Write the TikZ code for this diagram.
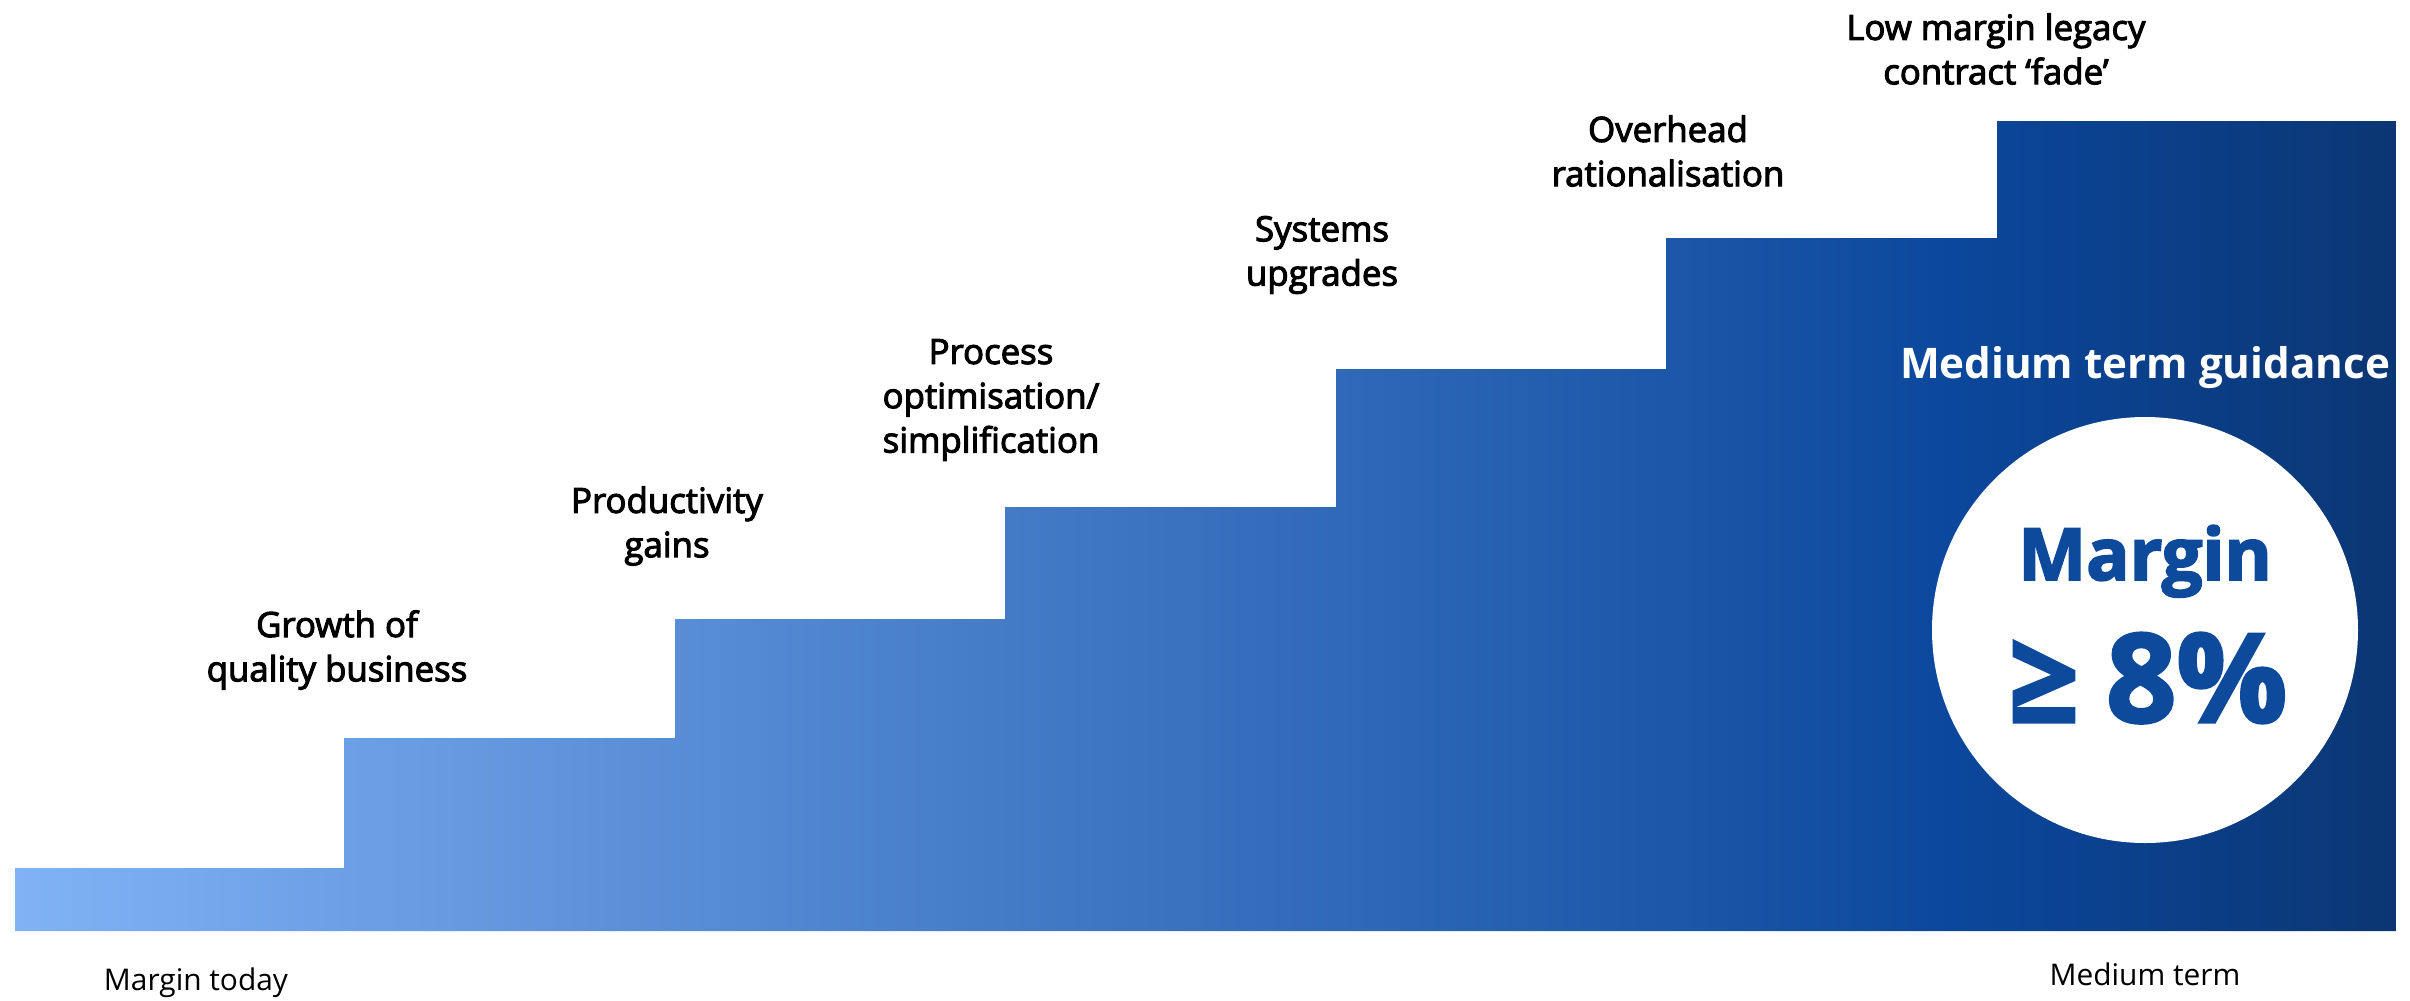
\documentclass[tikz,border=0pt]{standalone}
\usepackage{fontspec}
\setmainfont{Open Sans}
\IfFontExistsTF{Open Sans SemiBold}
  {\newfontfamily\labelfont{Open Sans SemiBold}}
  {\newfontfamily\labelfont{Open Sans}[FakeBold=3]}
\newfontfamily\headfont{Open Sans}[BoldFeatures={FakeBold=2.6}]

\definecolor{stairlight}{RGB}{128,178,245}
\definecolor{stairmid}{RGB}{11,71,156}
\definecolor{stairdark}{RGB}{11,54,115}
\definecolor{marginblue}{RGB}{14,74,156}

% the path's bounding box spans 25bp..75bp of the shading
\pgfdeclarehorizontalshading{stairshade}{100bp}{%
  color(0bp)=(stairlight); color(25bp)=(stairlight);
  color(65.7bp)=(stairmid);
  color(75bp)=(stairdark); color(100bp)=(stairdark)}

\tikzset{
  steplabel/.style={font=\labelfont\fontsize{9.9}{12.6}\selectfont,
    text=black, align=center, inner sep=0pt},
  axislabel/.style={font=\fontsize{8.5}{10}\selectfont, text=black, inner sep=0pt},
  guidetext/.style={font=\bfseries\fontsize{12}{14}\selectfont, text=white, inner sep=0pt},
  bigtext/.style={font=\headfont\bfseries, text=marginblue, inner sep=0pt},
}

\begin{document}
\begin{tikzpicture}[x=0.1mm, y=-0.1mm]
  \useasboundingbox (0,0) rectangle (2410,1000);

  % staircase
  \shade[shading=stairshade]
    (15,931) -- (15,868) -- (344,868) -- (344,738) -- (675,738) -- (675,619)
    -- (1005,619) -- (1005,507) -- (1336,507) -- (1336,369) -- (1666,369)
    -- (1666,238) -- (1997,238) -- (1997,121) -- (2396,121) -- (2396,931) -- cycle;

  % step captions
  \node[steplabel] (s1) at (337,650) {Growth of\\quality business};
  \node[steplabel] (s2) at (667,526) {Productivity\\gains};
  \node[steplabel] (s3) at (991,400) {Process\\optimisation/\\simplification};
  \node[steplabel] (s4) at (1322,255) {Systems\\upgrades};
  \node[steplabel] (s5) at (1668,151) {Overhead\\rationalisation};
  \node[steplabel] (s6) at (1996,49) {Low margin legacy\\contract ‘fade’};

  % guidance panel
  \node[guidetext, anchor=base] (guide) at (2145,378) {Medium term guidance};
  \node[circle, fill=white, inner sep=0pt, minimum size=42.6mm] (ring) at (2145,630) {};
  \node[bigtext, font=\headfont\bfseries\fontsize{20.5}{24}\selectfont, anchor=base] (mword) at (2145,580) {Margin};
  \node[bigtext, font=\headfont\bfseries\fontsize{35}{40}\selectfont, anchor=base] (mvalue) at (2148,722) {≥\hspace{0.22em}8\%};

  % axis ends
  \node[axislabel] (today) at (196,983) {Margin today};
  \node[axislabel] (medium) at (2145,974) {Medium term};
\end{tikzpicture}
\end{document}
